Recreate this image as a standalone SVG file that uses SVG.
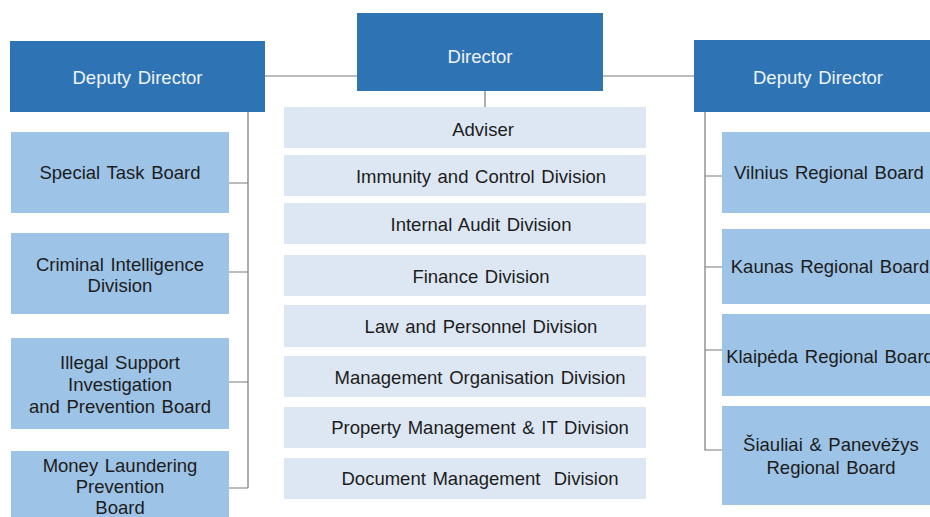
<svg xmlns="http://www.w3.org/2000/svg" width="930" height="517" viewBox="0 0 930 517">
  <style>
    .head { fill: #2e74b5; }
    .unit { fill: #9dc3e6; }
    .staff { fill: #dde7f3; }
    .link { stroke: #7a7a7a; stroke-width: 1.2; fill: none; }
    text { font-family: "Liberation Sans", Arial, sans-serif; font-size: 18.5px; word-spacing: 1.5px; text-anchor: middle; }
    .light { fill: #eef3fa; }
    .dark { fill: #1c1c1c; }
  </style>
  <rect width="930" height="517" fill="#ffffff"/>

  <!-- connectors -->
  <g id="connectors">
    <path class="link" d="M265 76 H357 M603 76 H694 M485 91 V107"/>
    <path class="link" d="M248 112 V488 M229 183 H248 M229 272 H248 M229 382 H248 M229 488 H248"/>
    <path class="link" d="M705 112 V450 H722 M705 176 H722 M705 267 H722 M705 350 H722"/>
  </g>

  <!-- top level -->
  <g id="director">
    <rect class="head" x="357" y="13" width="246" height="78"/>
    <text class="light" x="480" y="63">Director</text>
  </g>
  <g id="deputy-left">
    <rect class="head" x="10" y="41" width="255" height="71"/>
    <text class="light" x="137.5" y="84">Deputy Director</text>
  </g>
  <g id="deputy-right">
    <rect class="head" x="694" y="40" width="248" height="72"/>
    <text class="light" x="818" y="84">Deputy Director</text>
  </g>

  <!-- staff units under the director -->
  <g id="adviser">
    <rect class="staff" x="284" y="107" width="362" height="41"/>
    <text class="dark" x="483" y="136">Adviser</text>
  </g>
  <g id="immunity-control">
    <rect class="staff" x="284" y="155" width="362" height="41"/>
    <text class="dark" x="481" y="183">Immunity and Control Division</text>
  </g>
  <g id="internal-audit">
    <rect class="staff" x="284" y="203" width="362" height="41"/>
    <text class="dark" x="481" y="231">Internal Audit Division</text>
  </g>
  <g id="finance">
    <rect class="staff" x="284" y="255" width="362" height="41"/>
    <text class="dark" x="481" y="283">Finance Division</text>
  </g>
  <g id="law-personnel">
    <rect class="staff" x="284" y="305" width="362" height="42"/>
    <text class="dark" x="481" y="333">Law and Personnel Division</text>
  </g>
  <g id="management-organisation">
    <rect class="staff" x="284" y="356" width="362" height="41"/>
    <text class="dark" x="480" y="384">Management Organisation Division</text>
  </g>
  <g id="property-it">
    <rect class="staff" x="284" y="407" width="362" height="41"/>
    <text class="dark" x="480" y="434">Property Management &amp; IT Division</text>
  </g>
  <g id="document-management">
    <rect class="staff" x="284" y="458" width="362" height="41"/>
    <text class="dark" x="480" y="485" xml:space="preserve">Document Management  Division</text>
  </g>

  <!-- left deputy's boards -->
  <g id="special-task">
    <rect class="unit" x="11" y="132" width="218" height="81"/>
    <text class="dark" x="120" y="179">Special Task Board</text>
  </g>
  <g id="criminal-intelligence">
    <rect class="unit" x="11" y="233" width="218" height="81"/>
    <text class="dark" x="120" y="271">Criminal Intelligence</text>
    <text class="dark" x="120" y="292">Division</text>
  </g>
  <g id="illegal-support">
    <rect class="unit" x="11" y="338" width="218" height="91"/>
    <text class="dark" x="120" y="369">Illegal Support</text>
    <text class="dark" x="120" y="391">Investigation</text>
    <text class="dark" x="120" y="413">and Prevention Board</text>
  </g>
  <g id="money-laundering">
    <rect class="unit" x="11" y="451" width="218" height="80"/>
    <text class="dark" x="120" y="472">Money Laundering</text>
    <text class="dark" x="120" y="493">Prevention</text>
    <text class="dark" x="120" y="514">Board</text>
  </g>

  <!-- right deputy's regional boards -->
  <g id="vilnius">
    <rect class="unit" x="722" y="132" width="218" height="81"/>
    <text class="dark" x="829" y="179">Vilnius Regional Board</text>
  </g>
  <g id="kaunas">
    <rect class="unit" x="722" y="229" width="218" height="75"/>
    <text class="dark" x="830" y="273">Kaunas Regional Board</text>
  </g>
  <g id="klaipeda">
    <rect class="unit" x="722" y="314" width="218" height="82"/>
    <text class="dark" x="830" y="363">Klaipėda Regional Board</text>
  </g>
  <g id="siauliai-panevezys">
    <rect class="unit" x="722" y="406" width="218" height="99"/>
    <text class="dark" x="831" y="451">Šiauliai &amp; Panevėžys</text>
    <text class="dark" x="831" y="474">Regional Board</text>
  </g>
</svg>
